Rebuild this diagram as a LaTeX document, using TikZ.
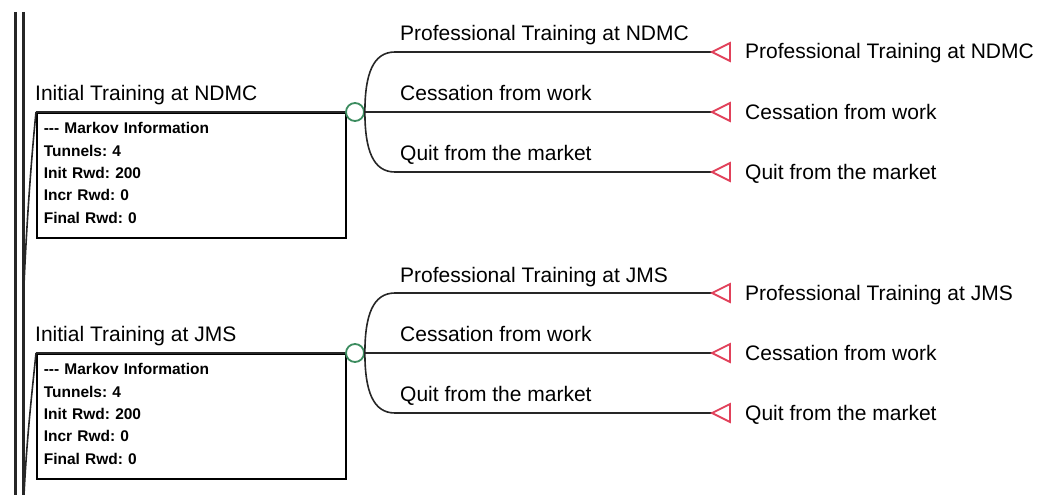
\documentclass[tikz,border=0pt]{standalone}
\usepackage{fontspec}
\setmainfont{Liberation Sans}
\usetikzlibrary{positioning}
\frenchspacing

\definecolor{chancegreen}{RGB}{60,140,95}
\definecolor{termred}{RGB}{225,65,90}

\tikzset{
  branch/.style={line width=1.6pt, black!85},
  rootline/.style={line width=3pt, black!85},
  lbl/.style={anchor=base west, inner sep=0pt, font=\fontsize{21}{25}\selectfont},
  chance/.style={circle, draw=chancegreen, line width=1.8pt, minimum size=18pt, inner sep=0pt, fill=white},
  endtri/.style={draw=termred, line width=1.8pt, line join=miter},
  markovbox/.style={draw, line width=1.6pt, anchor=north west, minimum width=309pt,
    minimum height=125pt, text width=295pt, inner xsep=6pt, align=left,
    font=\fontsize{15.5}{22.3}\selectfont\bfseries},
}

\begin{document}
\begin{tikzpicture}[x=1pt, y=-1pt]
        \useasboundingbox (0,0) rectangle (1047,495);

        % root stem at the left
        \draw[rootline] (15,12) -- (15,495);
        \draw[rootline] (23,12) -- (23,495);
        \coordinate (rA) at (24,285);
        \coordinate (rB) at (24,495);

        % first tree: NDMC
        \node[lbl] (lblA) at (35,100) {Initial Training at NDMC};
        \node[markovbox] (boxA) at (36,112) {-{}-{}- Markov Information\\Tunnels: 4\\Init Rwd: 200\\Incr Rwd: 0\\Final Rwd: 0\rule[-5pt]{0pt}{5pt}};
        \node[chance] (chA) at (355,112) {};
        \draw[branch] (boxA.north west) .. controls +(-4,40) and +(3,-70) .. (rA);
        \draw[branch] (boxA.north west) -- (chA.west);

        \coordinate (bA1) at (395,52);
        \coordinate (bA3) at (395,172);
        \coordinate (tA1) at (712,52);
        \coordinate (tA2) at (712,112);
        \coordinate (tA3) at (712,172);
        \draw[branch] (chA.east) .. controls +(0,-38) and +(-22,0) .. (bA1) -- (tA1);
        \draw[branch] (chA.east) -- (tA2);
        \draw[branch] (chA.east) .. controls +(0,38) and +(-22,0) .. (bA3) -- (tA3);

        \node[lbl] (pA1) at (400,41) {Professional Training at NDMC};
        \node[lbl] (pA2) at (400,100) {Cessation from work};
        \node[lbl] (pA3) at (400,160) {Quit from the market};

        \draw[endtri] (tA1) -- ++(18,-9) -- ++(0,18) -- cycle;
        \draw[endtri] (tA2) -- ++(18,-9) -- ++(0,18) -- cycle;
        \draw[endtri] (tA3) -- ++(18,-9) -- ++(0,18) -- cycle;
        \node[lbl] (eA1) at (745,59) {Professional Training at NDMC};
        \node[lbl] (eA2) at (745,119) {Cessation from work};
        \node[lbl] (eA3) at (745,179) {Quit from the market};

        % second tree: JMS
        \node[lbl] (lblB) at (35,341) {Initial Training at JMS};
        \node[markovbox] (boxB) at (36,353) {-{}-{}- Markov Information\\Tunnels: 4\\Init Rwd: 200\\Incr Rwd: 0\\Final Rwd: 0\rule[-5pt]{0pt}{5pt}};
        \node[chance] (chB) at (355,353) {};
        \draw[branch] (boxB.north west) .. controls +(-4,40) and +(3,-60) .. (rB);
        \draw[branch] (boxB.north west) -- (chB.west);

        \coordinate (bB1) at (395,293);
        \coordinate (bB3) at (395,413);
        \coordinate (tB1) at (712,293);
        \coordinate (tB2) at (712,353);
        \coordinate (tB3) at (712,413);
        \draw[branch] (chB.east) .. controls +(0,-38) and +(-22,0) .. (bB1) -- (tB1);
        \draw[branch] (chB.east) -- (tB2);
        \draw[branch] (chB.east) .. controls +(0,38) and +(-22,0) .. (bB3) -- (tB3);

        \node[lbl] (pB1) at (400,282) {Professional Training at JMS};
        \node[lbl] (pB2) at (400,341) {Cessation from work};
        \node[lbl] (pB3) at (400,401) {Quit from the market};

        \draw[endtri] (tB1) -- ++(18,-9) -- ++(0,18) -- cycle;
        \draw[endtri] (tB2) -- ++(18,-9) -- ++(0,18) -- cycle;
        \draw[endtri] (tB3) -- ++(18,-9) -- ++(0,18) -- cycle;
        \node[lbl] (eB1) at (745,300) {Professional Training at JMS};
        \node[lbl] (eB2) at (745,360) {Cessation from work};
        \node[lbl] (eB3) at (745,420) {Quit from the market};
    \end{tikzpicture}
\end{document}
